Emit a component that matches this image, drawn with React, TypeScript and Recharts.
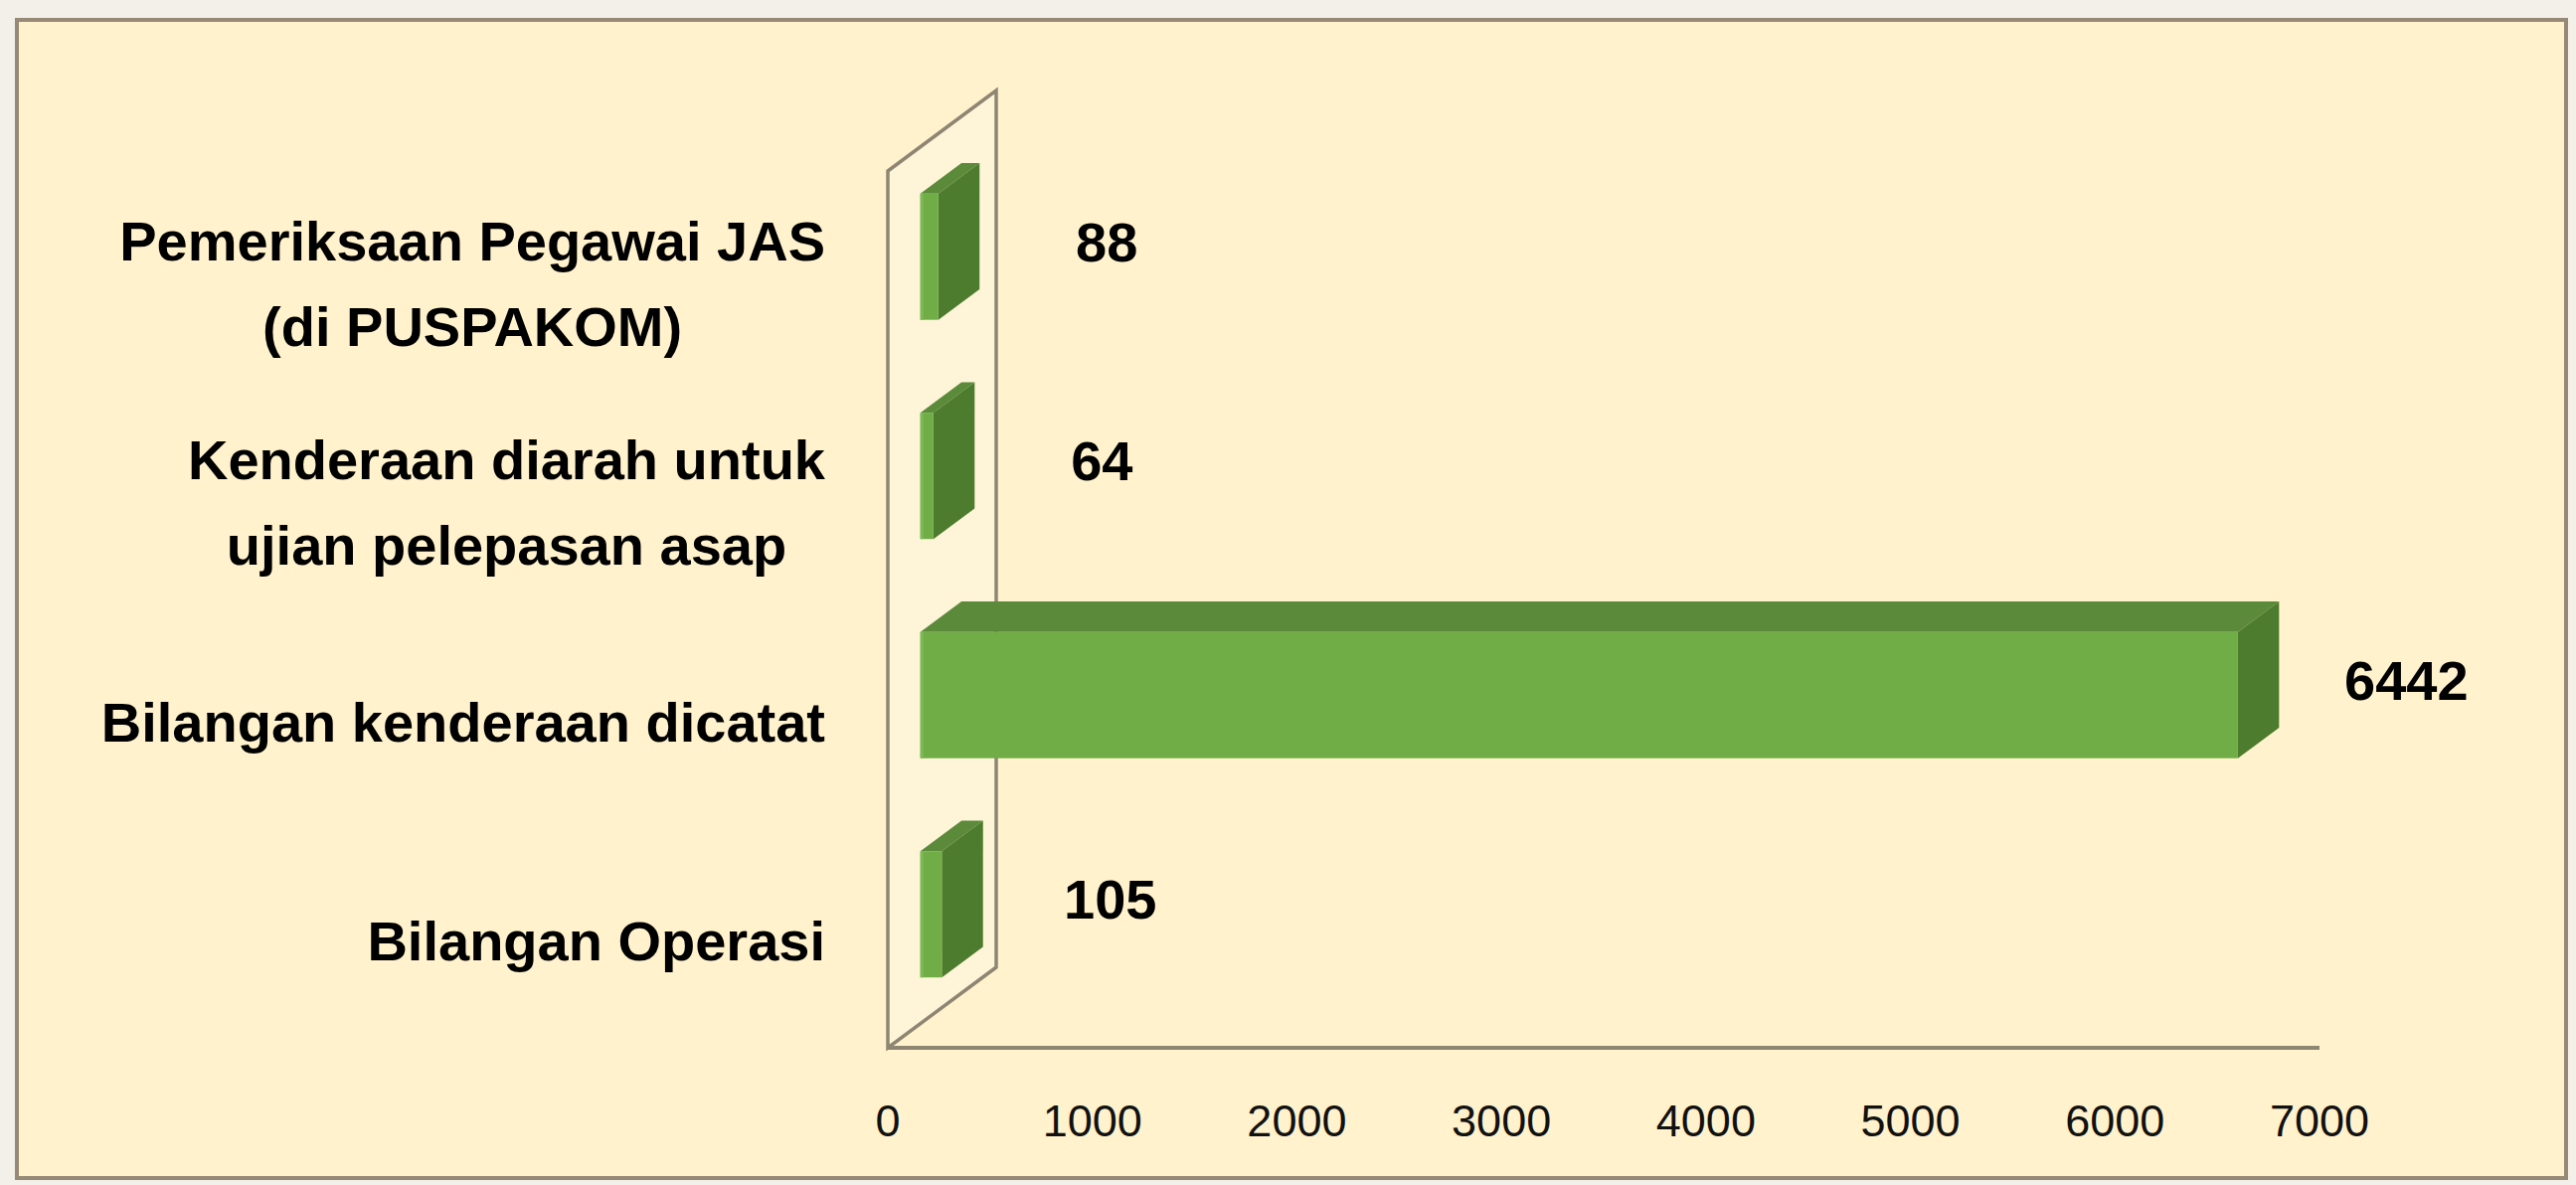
import React from 'react';
import { BarChart, Bar, XAxis, YAxis, LabelList } from 'recharts';

// ---- data ----
const categories = [
  'Pemeriksaan Pegawai JAS (di PUSPAKOM)',
  'Kenderaan diarah untuk ujian pelepasan asap',
  'Bilangan kenderaan dicatat',
  'Bilangan Operasi',
];
const categoryLines = [
  ['Pemeriksaan Pegawai JAS', '(di PUSPAKOM)'],
  ['Kenderaan diarah untuk', 'ujian pelepasan asap'],
  ['Bilangan kenderaan dicatat'],
  ['Bilangan Operasi'],
];
const values = [88, 64, 6442, 105];
const xTicks = [0, 1000, 2000, 3000, 4000, 5000, 6000, 7000];

const data = categories.map((name, i) => ({ name, value: values[i] }));

// ---- layout ----
const W = 2591;
const H = 1192;
const M_TOP = 172;
const M_RIGHT = 258;
const Y_AXIS_W = 893;
const X_AXIS_H = 138;
const PLOT_LEFT = Y_AXIS_W;
const PLOT_TOP = M_TOP;
const PLOT_BOTTOM = H - X_AXIS_H;

const DEPTH_X = 109;
const DEPTH_Y = -81;
const FRONT = 0.3;
const BACK = 0.68;

const FONT = '"Liberation Sans", Arial, sans-serif';
const GREEN_FRONT = '#70ad47';
const GREEN_TOP = '#5b8a3b';
const GREEN_SIDE = '#4d7c2e';
const LINE = '#8e8672';

let measureCtx: CanvasRenderingContext2D | null = null;
function measure(text: string, font: string): number {
  if (!measureCtx) {
    const c = document.createElement('canvas');
    measureCtx = c.getContext('2d');
  }
  if (!measureCtx) return text.length * 30;
  measureCtx.font = font;
  return measureCtx.measureText(text).width;
}

const Bar3D = (props: any) => {
  const { x, y, width, height } = props;
  if (width == null || height == null) return null;
  const fx = x + DEPTH_X * FRONT;
  const fy = y + DEPTH_Y * FRONT;
  const dx = DEPTH_X * (BACK - FRONT);
  const dy = DEPTH_Y * (BACK - FRONT);
  const w = width;
  const h = height;
  return (
    <g>
      <polygon
        points={`${fx},${fy} ${fx + w},${fy} ${fx + w + dx},${fy + dy} ${fx + dx},${fy + dy}`}
        fill={GREEN_TOP}
      />
      <polygon
        points={`${fx + w},${fy} ${fx + w + dx},${fy + dy} ${fx + w + dx},${fy + h + dy} ${fx + w},${fy + h}`}
        fill={GREEN_SIDE}
      />
      <rect x={fx} y={fy} width={w} height={h} fill={GREEN_FRONT} />
      <rect x={fx} y={fy} width={3} height={h} fill="#7cb957" />
    </g>
  );
};

const renderValueLabel = (p: any) => {
  const { x, y, width, height, value } = p;
  const cx = x + width + DEPTH_X * BACK + 128;
  const cy = y + height / 2 + DEPTH_Y * FRONT - 15;
  return (
    <text
      x={cx}
      y={cy}
      textAnchor="middle"
      dominantBaseline="central"
      style={{ fontFamily: FONT, fontWeight: 700, fontSize: 56, fill: '#000' }}
    >
      {value}
    </text>
  );
};

const CategoryTick = (props: any) => {
  const { x, y, payload } = props;
  const idx = categories.indexOf(payload.value);
  const lines = idx >= 0 ? categoryLines[idx] : [String(payload.value)];
  const font = `bold 56px ${FONT}`;
  const maxW = Math.max(...lines.map((l) => measure(l, font)));
  const right = x - 63;
  const cx = right - maxW / 2;
  const lh = 86;
  const startY = y + 3 - ((lines.length - 1) * lh) / 2;
  return (
    <g>
      {lines.map((l, i) => (
        <text
          key={i}
          x={cx}
          y={startY + i * lh}
          textAnchor="middle"
          dominantBaseline="central"
          style={{ fontFamily: FONT, fontWeight: 700, fontSize: 56, fill: '#000' }}
        >
          {l}
        </text>
      ))}
    </g>
  );
};

const ValueTick = (props: any) => {
  const { x, y, payload } = props;
  return (
    <text
      x={x}
      y={y + 73}
      textAnchor="middle"
      dominantBaseline="central"
      style={{ fontFamily: FONT, fontSize: 45, fill: '#111' }}
    >
      {payload.value}
    </text>
  );
};

const Wall = () => {
  const x0 = PLOT_LEFT;
  const x1 = PLOT_LEFT + DEPTH_X;
  const pts = `${x0},${PLOT_TOP} ${x1},${PLOT_TOP + DEPTH_Y} ${x1},${PLOT_BOTTOM + DEPTH_Y} ${x0},${PLOT_BOTTOM}`;
  return (
    <svg width={W} height={H} style={{ position: 'absolute', left: 0, top: 0 }}>
      <polygon points={pts} fill="#fef4d8" stroke={LINE} strokeWidth={3.5} strokeLinejoin="miter" />
    </svg>
  );
};

export default function App() {
  return (
    <div
      style={{
        position: 'absolute',
        left: 0,
        top: 0,
        width: W,
        height: H,
        background: '#f3f0e9',
        overflow: 'hidden',
      }}
    >
      <div
        style={{
          position: 'absolute',
          left: 15,
          top: 18,
          width: 2568,
          height: 1169,
          boxSizing: 'border-box',
          border: '4px solid #968a77',
          background: '#fff2cc',
        }}
      />
      <Wall />
      <div style={{ position: 'absolute', left: 0, top: 0 }}>
        <BarChart
          width={W}
          height={H}
          data={data}
          layout="vertical"
          margin={{ top: M_TOP, right: M_RIGHT, bottom: 0, left: 0 }}
        >
          <XAxis
            type="number"
            domain={[0, 7000]}
            ticks={xTicks}
            interval={0}
            height={X_AXIS_H}
            tickLine={false}
            tickSize={0}
            tickMargin={0}
            axisLine={{ stroke: LINE, strokeWidth: 4 }}
            tick={<ValueTick />}
          />
          <YAxis
            type="category"
            dataKey="name"
            width={Y_AXIS_W}
            axisLine={false}
            tickLine={false}
            tickSize={0}
            tickMargin={0}
            interval={0}
            tick={<CategoryTick />}
          />
          <Bar dataKey="value" barSize={127} shape={<Bar3D />} isAnimationActive={false} activeBar={false}>
            <LabelList dataKey="value" content={renderValueLabel} />
          </Bar>
        </BarChart>
      </div>
    </div>
  );
}
